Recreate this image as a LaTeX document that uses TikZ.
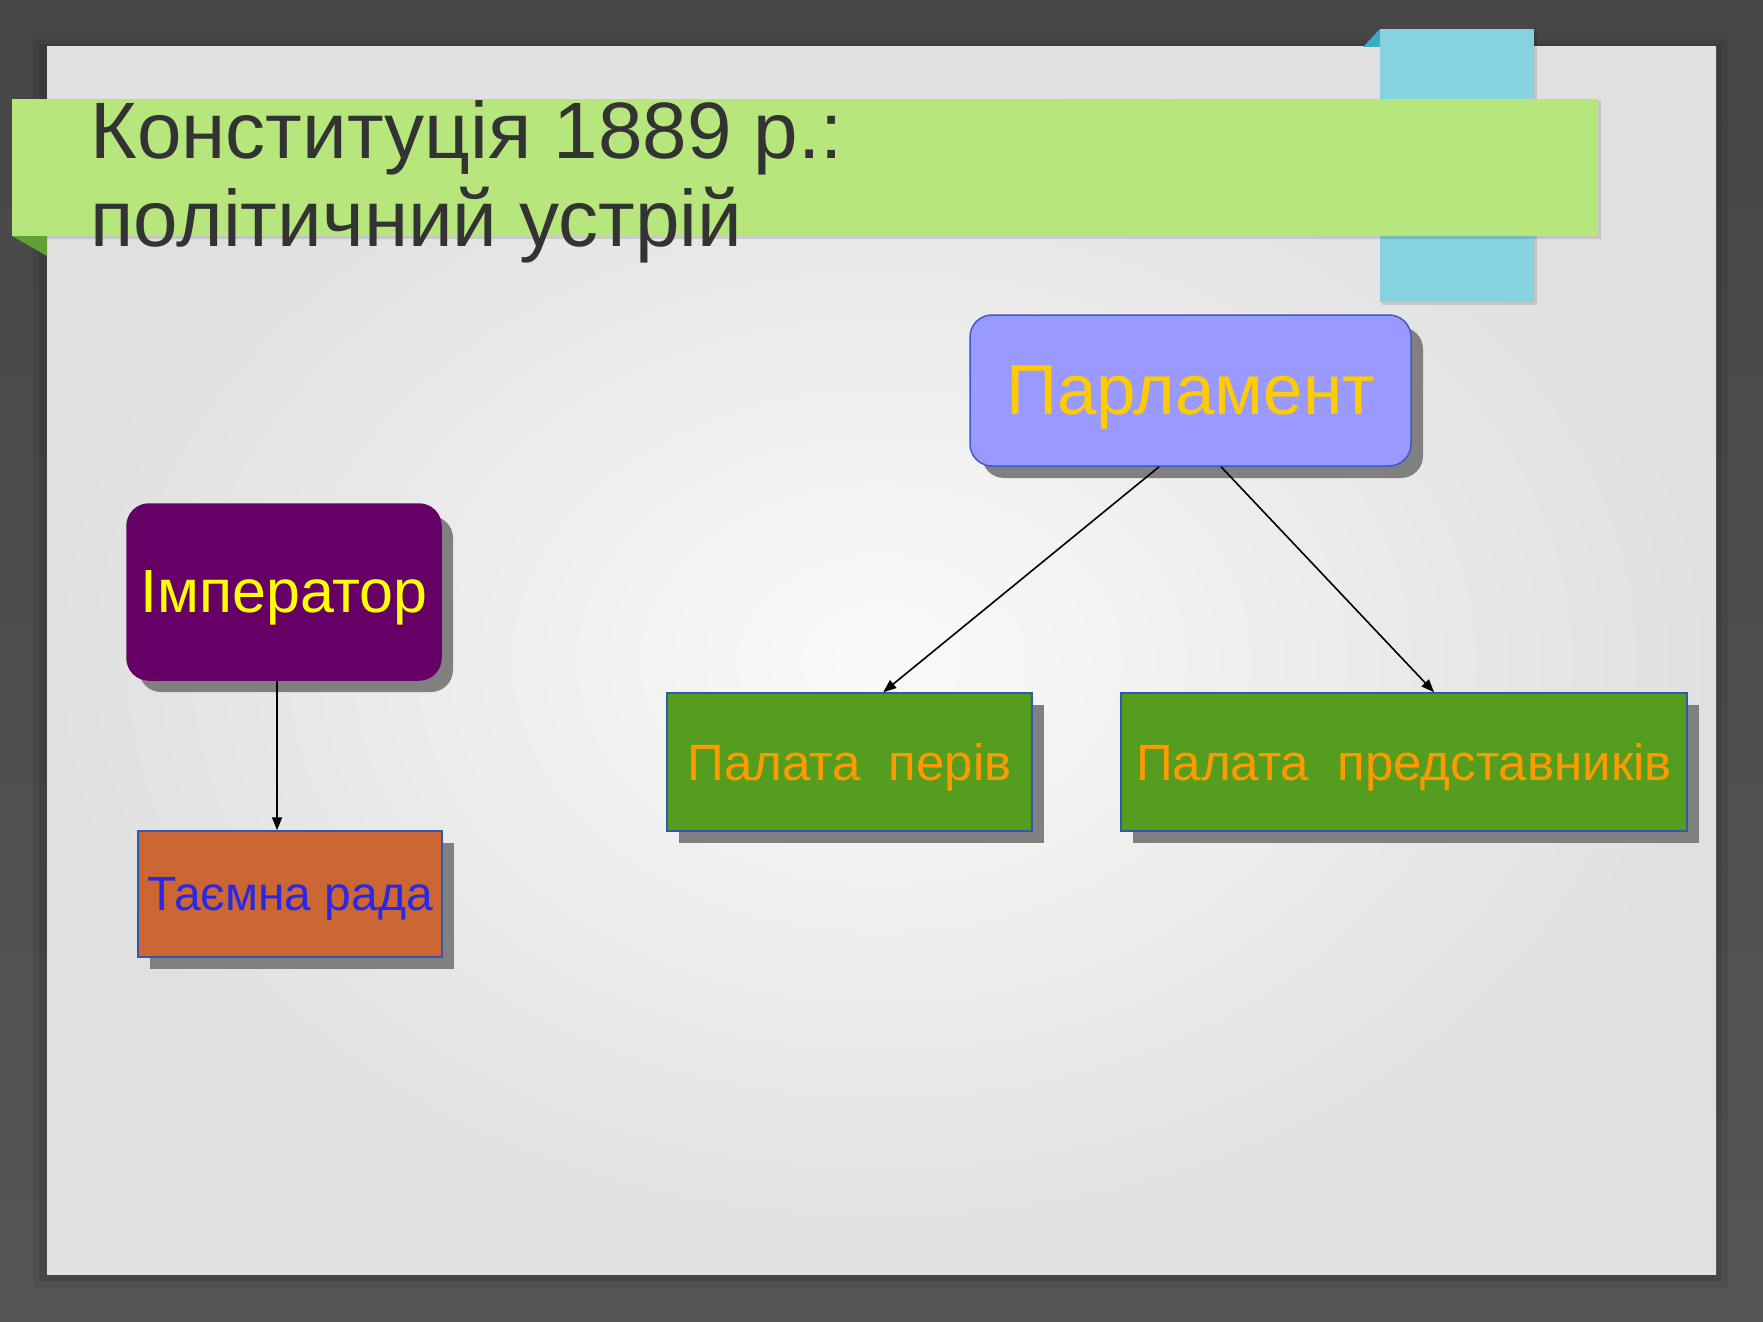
\documentclass[tikz,border=0pt]{standalone}
\usepackage{fontspec}
\setmainfont{Liberation Sans}
\usetikzlibrary{shadows,arrows.meta,calc}
\definecolor{bgtop}{RGB}{70,70,70}
\definecolor{bgbot}{RGB}{86,86,86}
\definecolor{paperin}{RGB}{250,250,250}
\definecolor{paperout}{RGB}{224,224,224}
\definecolor{banner}{RGB}{182,230,124}
\definecolor{bannerfold}{RGB}{96,160,52}
\definecolor{tab}{RGB}{134,211,223}
\definecolor{tabfold}{RGB}{58,172,196}
\definecolor{titletext}{RGB}{51,51,51}
\definecolor{shadowgray}{RGB}{128,128,128}
\definecolor{parlfill}{RGB}{153,153,255}
\definecolor{parlborder}{RGB}{60,90,200}
\definecolor{parltext}{RGB}{255,204,0}
\definecolor{impfill}{RGB}{102,0,102}
\definecolor{imptext}{RGB}{255,255,0}
\definecolor{councilfill}{RGB}{204,102,51}
\definecolor{counciltext}{RGB}{40,40,230}
\definecolor{chamberfill}{RGB}{85,157,30}
\definecolor{chambertext}{RGB}{255,153,0}
\definecolor{boxborder}{RGB}{51,90,170}
\begin{document}
\begin{tikzpicture}[x=0.5pt,y=-0.5pt,
  box/.style={draw=boxborder, line width=0.75pt, inner sep=0pt, align=center, text depth=0pt,
    drop shadow={shadow xshift=6pt, shadow yshift=-6pt, fill=shadowgray, opacity=1}},
  roundbox/.style={box, rounded corners=11pt},
  arr/.style={line width=0.8pt, black, -{Triangle[length=6.5pt,width=5pt]}},
  titlestyle/.style={anchor=base west, inner sep=0pt, text=titletext, font=\fontsize{40}{44}\selectfont}
]
\useasboundingbox (0,0) rectangle (1763,1322);
% background
\shade[top color=bgtop, bottom color=bgbot] (0,0) rectangle (1763,1322);
\fill[black, opacity=0.08] (33,39) rectangle (1728,1288);
\fill[black, opacity=0.10] (39,44) rectangle (1722,1281);
% paper
\shade[inner color=paperin, outer color=paperout] (47,47) rectangle (1716,1274);
\draw[white!80!gray, line width=1pt] (47,1273) -- (1716,1273);
% cyan tab
\fill[black, opacity=0.12] (1382,32) rectangle (1537,305);
\fill[tab] (1380,29) rectangle (1534,302);
\fill[tabfold] (1363,47) -- (1380,29) -- (1380,47) -- cycle;
% green banner
\fill[black, opacity=0.12] (14,101) rectangle (1601,239);
\fill[banner] (12,99) rectangle (1598,236);
\fill[bannerfold] (12,236) -- (47,236) -- (47,256) -- cycle;
% title
\node[titlestyle] (title1) at (90,159) {Конституція 1889 р.:};
\node[titlestyle] (title2) at (90,246) {політичний устрій};
% nodes
\node[roundbox, fill=parlfill, draw=parlborder, minimum width=220.5pt, minimum height=75.5pt,
  text=parltext, font=\fontsize{35.5}{40}\selectfont] (parl) at (1190.5,390.5) {Парламент};
\node[roundbox, fill=impfill, draw=impfill, minimum width=157pt, minimum height=88pt,
  text=imptext, font=\fontsize{30.5}{34}\selectfont] (imp) at (284,592) {Імператор};
\node[box, fill=councilfill, minimum width=152pt, minimum height=63pt,
  text=counciltext, font=\fontsize{24}{28}\selectfont] (council) at (290,894) {Таємна рада};
\node[box, fill=chamberfill, minimum width=182.5pt, minimum height=69pt,
  text=chambertext, font=\fontsize{25.5}{30}\selectfont] (peers) at (849.5,762) {Палата\ \ перів};
\node[box, fill=chamberfill, minimum width=283pt, minimum height=69pt,
  text=chambertext, font=\fontsize{25.5}{30}\selectfont] (reps) at (1404,762) {Палата\ \ представників};
% connectors
\coordinate (ia) at ($(imp.south west)!0.478!(imp.south east)$);
\draw[arr] (ia) -- (ia |- council.north);
\draw[arr] ($(parl.south west)!0.429!(parl.south east)$) -- ($(peers.north west)!0.592!(peers.north east)$);
\draw[arr] ($(parl.south west)!0.569!(parl.south east)$) -- ($(reps.north west)!0.553!(reps.north east)$);
\end{tikzpicture}
\end{document}
